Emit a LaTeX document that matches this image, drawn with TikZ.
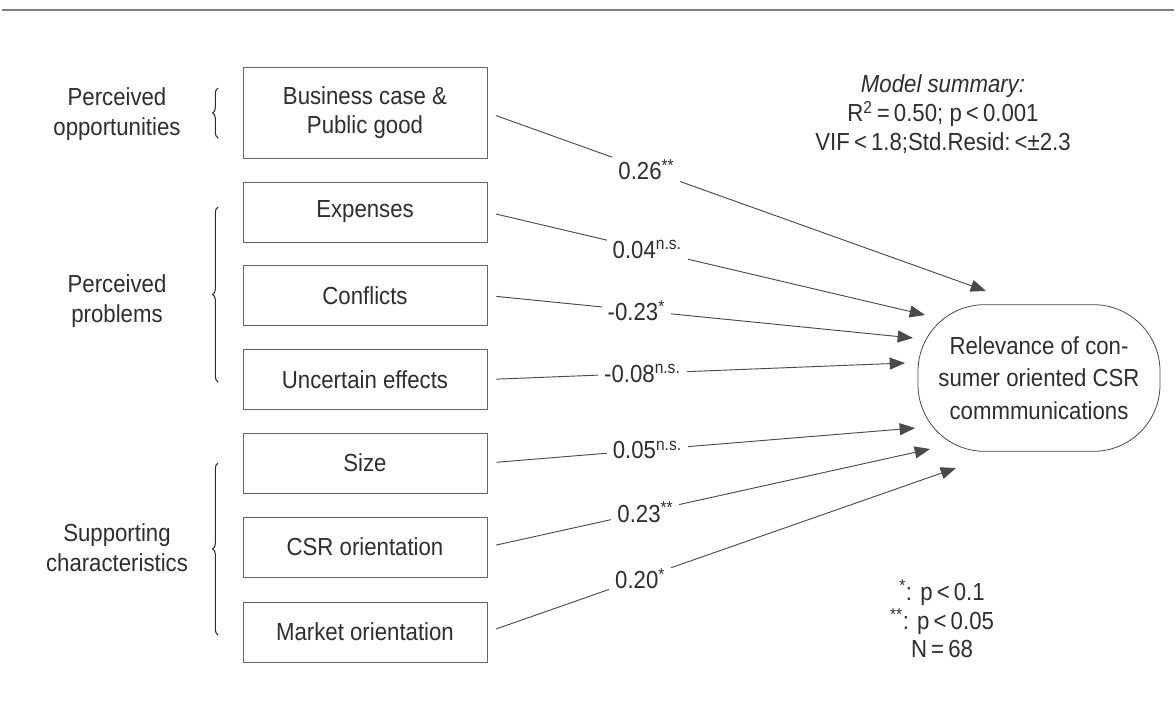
\documentclass[tikz,border=0pt]{standalone}
\usepackage{fontspec}
\setmainfont{Liberation Sans}[FakeStretch=0.9]
\usetikzlibrary{arrows.meta,decorations.pathreplacing}
\definecolor{ink}{HTML}{2E2E2E}
\definecolor{lineg}{HTML}{4A4A4A}
\begin{document}
\begin{tikzpicture}[x=0.75pt,y=-0.75pt,
  font=\fontsize{18.5}{22}\selectfont, text=ink,
  varbox/.style={draw=lineg!85, line width=0.6pt, minimum width=183pt, minimum height=45pt, inner sep=0pt, align=center},
  conn/.style={draw=lineg, line width=0.7pt, -{Triangle[length=11.5pt,width=9pt]}, shorten <=6.75pt},
  coef/.style={fill=white, inner xsep=4.5pt, inner ysep=1.5pt},
  grp/.style={align=center, font=\fontsize{18.5}{22.5}\selectfont},
  brc/.style={decorate, decoration={brace, amplitude=4pt}, draw=ink, line width=0.8pt}
]
\useasboundingbox (0,0) rectangle (1176,715);
% top rule
\coordinate (r1) at (2,10);
\coordinate (r2) at (1174,10);
\draw[draw=gray, line width=1.3pt] (r1) -- (r2);

% predictor boxes
\node[varbox, minimum height=68.25pt] (b1) at (365,112.5) {Business case \&\\Public good};
\node[varbox] (b2) at (365,212) {Expenses};
\node[varbox] (b3) at (365,295.5) {Conflicts};
\node[varbox] (b4) at (365,379.5) {Uncertain effects};
\node[varbox] (b5) at (365,463) {Size};
\node[varbox] (b6) at (365,547) {CSR orientation};
\node[varbox] (b7) at (365,632) {Market orientation};

% group labels
\node[grp] (g1) at (117,114) {Perceived\\opportunities};
\node[grp] (g2) at (117,301) {Perceived\\problems};
\node[grp] (g3) at (117,548) {Supporting\\characteristics};

% braces
\coordinate (k1a) at (218,138); \coordinate (k1b) at (218,88);
\coordinate (k2a) at (218,382); \coordinate (k2b) at (218,207);
\coordinate (k3a) at (218,635); \coordinate (k3b) at (218,463);
\draw[brc] (k1a) -- (k1b);
\draw[brc] (k2a) -- (k2b);
\draw[brc] (k3a) -- (k3b);

% dependent variable
\node[draw=lineg, line width=0.6pt, rounded corners=50pt, minimum width=181.5pt, minimum height=110pt, align=center,
      font=\fontsize{18.5}{24.5}\selectfont] (dv) at (1039,378)
  {Relevance of con-\\sumer oriented CSR\\commmunications};

% arrow tips
\coordinate (t1) at (986,291);
\coordinate (t2) at (925,315);
\coordinate (t3) at (913,338);
\coordinate (t4) at (905,363);
\coordinate (t5) at (915,428);
\coordinate (t6) at (930,449);
\coordinate (t7) at (956,468);

\draw[conn] (b1.east) -- node[coef, pos=0.319] (c1) {0.26\textsuperscript{**}} (t1);
\draw[conn] (b2.east) -- node[coef, pos=0.365] (c2) {0.04\textsuperscript{n.s.}} (t2);
\draw[conn] (b3.east) -- node[coef, pos=0.35] (c3) {-0.23\textsuperscript{*}} (t3);
\draw[conn] (b4.east) -- node[coef, pos=0.371] (c4) {-0.08\textsuperscript{n.s.}} (t4);
\draw[conn] (b5.east) -- node[coef, pos=0.374] (c5) {0.05\textsuperscript{n.s.}} (t5);
\draw[conn] (b6.east) -- node[coef, pos=0.357] (c6) {0.23\textsuperscript{**}} (t6);
\draw[conn] (b7.east) -- node[coef, pos=0.326] (c7) {0.20\textsuperscript{*}} (t7);

% model summary
\node[align=center, font=\fontsize{18.5}{21.5}\selectfont] (ms) at (943,114)
  {\textit{Model summary:}\\R\textsuperscript{2}\,=\,0.50; p\,<\,0.001\\VIF\,<\,1.8;Std.Resid:\,<±2.3};

% footnote
\node[align=center, font=\fontsize{18.5}{21.5}\selectfont] (fn) at (942,619)
  {\textsuperscript{*}: p\,<\,0.1\\\textsuperscript{**}: p\,<\,0.05\\N\,=\,68};
\end{tikzpicture}
\end{document}
